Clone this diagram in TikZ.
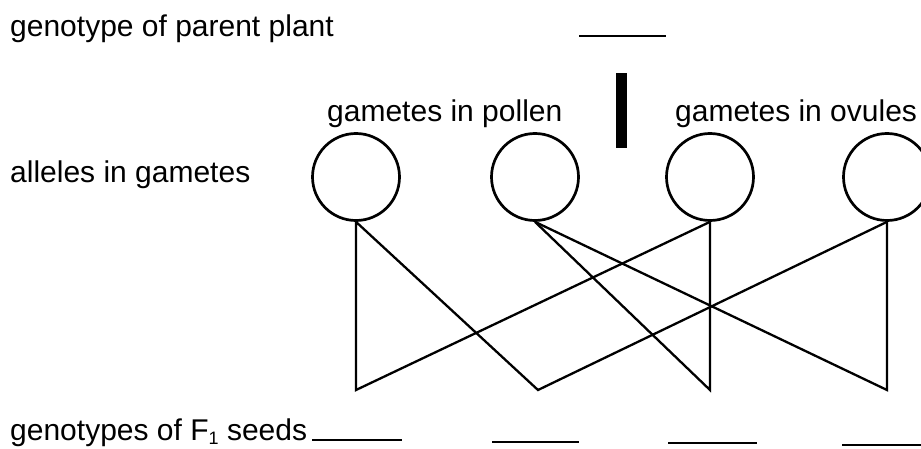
\documentclass[tikz,border=0pt]{standalone}
\usepackage{fontspec}
\setmainfont{Liberation Sans}
\begin{document}
\begin{tikzpicture}[x=1pt,y=-1pt,
  lbl/.style={anchor=base west,inner sep=0pt,font=\fontsize{30}{36}\selectfont},
  gam/.style={circle,draw,line width=2.7pt,minimum size=87pt,inner sep=0pt},
  conn/.style={line width=2.3pt,line join=miter},
  blank/.style={line width=2.4pt},
  bar/.style={fill=black}]
\useasboundingbox (0,0) rectangle (921,449);
% texts
\node[lbl] (t1) at (10,37) {genotype of parent plant};
\node[lbl] (t2) at (327,122) {gametes in pollen};
\node[lbl] (t3) at (675,122) {gametes in ovules};
\node[lbl] (t4) at (10,183) {alleles in gametes};
\node[lbl] (t5) at (10,440) {genotypes of F\raisebox{-0.3ex}{\fontsize{18}{18}\selectfont 1} seeds};
% blanks
\coordinate (b0a) at (579,36); \coordinate (b0b) at (666,36);
\coordinate (b1a) at (312,440); \coordinate (b1b) at (402,440);
\coordinate (b2a) at (492,442); \coordinate (b2b) at (579,442);
\coordinate (b3a) at (668,443); \coordinate (b3b) at (757,443);
\coordinate (b4a) at (842,445); \coordinate (b4b) at (925,445);
\draw[blank] (b0a) -- (b0b);
\draw[blank] (b1a) -- (b1b);
\draw[blank] (b2a) -- (b2b);
\draw[blank] (b3a) -- (b3b);
\draw[blank] (b4a) -- (b4b);
% divider bar
\fill[bar] (616,73) rectangle (627,148);
% gametes
\node[gam] (c1) at (356,177) {};
\node[gam] (c2) at (535,177) {};
\node[gam] (c3) at (710,177) {};
\node[gam] (c4) at (887,177) {};
% seeds vertices
\coordinate (v1) at (356,390);
\coordinate (v2) at (538,390);
\coordinate (v3) at (710,390);
\coordinate (v4) at (887,390);
\draw[conn] (c3.south) -- (v1) -- (c1.south) -- (v2) -- (c4.south);
\draw[conn] (c2.south) -- (v3) -- (c3.south);
\draw[conn] (c2.south) -- (v4) -- (c4.south);
\end{tikzpicture}
\end{document}
